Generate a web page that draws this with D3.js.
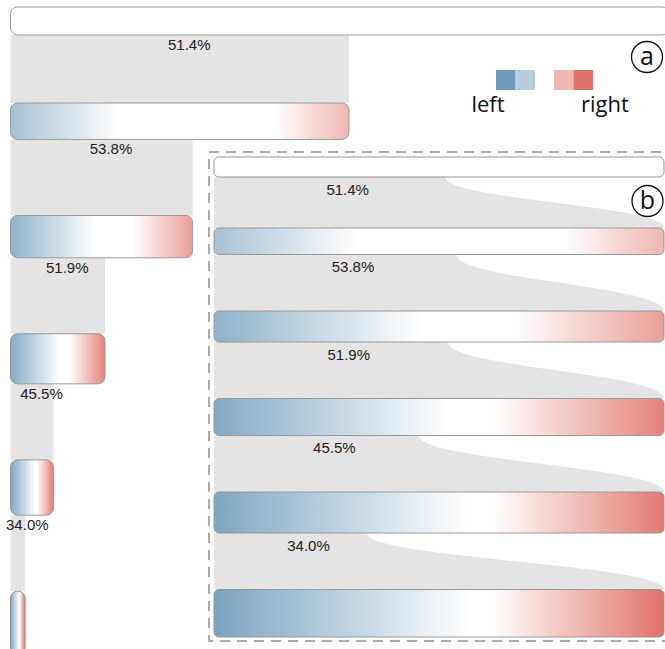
<!DOCTYPE html>
<html>
<head>
<meta charset="utf-8">
<script src="https://cdn.jsdelivr.net/npm/d3@7/dist/d3.min.js"></script>
<style>
  html, body { margin: 0; padding: 0; background: #fff; }
  svg { display: block; }
</style>
</head>
<body>
<svg id="chart" width="665" height="649"></svg>
<script>
// Conversion from one step of the funnel to the next (percent)
const stepRates = [51.4, 53.8, 51.9, 45.5, 34.0];
// Thickness value of each step bar (same units for both panels)
const stepDepth = [20, 26.5, 31, 37, 41, 47.5];
// Left/right position profile of each step: strength at each edge and how far it reaches
const leftTint   = [0, 0.62, 0.78, 0.86, 0.89, 0.92];
const leftReach  = [0, 0.32, 0.46, 0.52, 0.56, 0.57];
const rightTint  = [0, 0.52, 0.68, 0.88, 0.94, 1.0];
const rightStart = [1, 0.78, 0.67, 0.62, 0.62, 0.62];
// Legend
const legendLabels = ["left", "right"];
const legendColors = [["#6f9bbb", "#b5cddd"], ["#f0b8b3", "#e07268"]];

const svg = d3.select("#chart");
const defs = svg.append("defs");

const blue = d3.interpolateRgb("#ffffff", "#6f9bbb");
const red  = d3.interpolateRgb("#ffffff", "#e07268");

// Relative number of sessions reaching each step
const counts = [1];
stepRates.forEach((r, i) => counts.push(counts[i] * r / 100));

// One horizontal gradient per step
const SAMPLES = 60;
counts.forEach((_, i) => {
  const g = defs.append("linearGradient")
    .attr("id", "grad" + i)
    .attr("x1", 0).attr("x2", 1).attr("y1", 0).attr("y2", 0);
  const colorAt = t => {
    if (t < leftReach[i]) return blue(leftTint[i] * (1 - t / leftReach[i]));
    if (t > rightStart[i]) return red(rightTint[i] * (t - rightStart[i]) / (1 - rightStart[i]));
    return "#ffffff";
  };
  const offsets = d3.range(SAMPLES + 1).map(k => k / SAMPLES)
    .concat([leftReach[i], rightStart[i]])
    .sort((a, b) => a - b);
  offsets.forEach(t => {
    g.append("stop").attr("offset", t).attr("stop-color", colorAt(t));
  });
});

const flowFill = "#e4e4e4";
const barStroke = "#999";
const labelFont = "'Liberation Sans', Arial, sans-serif";

function layout(top, depthScale, firstGap, gap) {
  const ys = [];
  let y = top;
  stepDepth.forEach((d, i) => {
    const h = depthScale(d);
    ys.push({ y0: y, y1: y + h, h });
    y += h + (i === 0 ? firstGap : gap);
  });
  return ys;
}

// ---------- Panel a: bar width proportional to sessions ----------
const ax = d3.scaleLinear().domain([0, 1]).range([10.5, 669]);
const aDepth = d3.scaleLinear().domain([0, 10]).range([2, 15]);
const aRows = layout(7, aDepth, 68, 76);

const pa = svg.append("g");
// flows (gray) between successive bars
pa.selectAll("rect.flow").data(stepRates).join("rect")
  .attr("class", "flow")
  .attr("x", ax(0))
  .attr("y", (d, i) => aRows[i].y1)
  .attr("width", (d, i) => ax(counts[i + 1]) - ax(0))
  .attr("height", (d, i) => aRows[i + 1].y0 - aRows[i].y1)
  .attr("fill", flowFill);

pa.selectAll("rect.bar").data(counts).join("rect")
  .attr("class", "bar")
  .attr("x", ax(0))
  .attr("y", (d, i) => aRows[i].y0)
  .attr("width", d => ax(d) - ax(0))
  .attr("height", (d, i) => aRows[i].h)
  .attr("rx", 7).attr("ry", 7)
  .attr("fill", (d, i) => `url(#grad${i})`)
  .attr("stroke", barStroke).attr("stroke-width", 1);

pa.selectAll("text.rate").data(stepRates).join("text")
  .attr("class", "rate")
  .attr("x", (d, i) => ax(0) + (ax(counts[i + 1]) - ax(0)) / 2 + 9.5)
  .attr("y", (d, i) => aRows[i].y1 + 15)
  .attr("text-anchor", "middle")
  .attr("font-family", labelFont).attr("font-size", 15).attr("fill", "#222")
  .text(d => d3.format(".1f")(d) + "%");

// ---------- Panel b: full width bars, conversion as split point ----------
const bx = d3.scaleLinear().domain([0, 1]).range([214, 664]);
const bDepth = d3.scaleLinear().domain([0, 10]).range([0, 10]);
const bRows = layout(157, bDepth, 51, 56.5);

const pb = svg.append("g");
pb.append("rect")
  .attr("x", 209).attr("y", 152).attr("width", 480).attr("height", 489)
  .attr("fill", "none").attr("stroke", "#aaa").attr("stroke-width", 2)
  .attr("stroke-dasharray", "10,7");

// flow shape: leaves under the left part of a bar and spreads to full width
const bend = 0.45;
pb.selectAll("path.flow").data(stepRates).join("path")
  .attr("class", "flow")
  .attr("d", (d, i) => {
    const xs = bx(d / 100), x0 = bx(0), x1 = bx(1);
    const ya = bRows[i].y1, yb = bRows[i + 1].y0, dy = yb - ya;
    const p = d3.path();
    p.moveTo(x0, ya);
    p.lineTo(xs, ya);
    p.bezierCurveTo(xs, ya + bend * dy, x1, yb - bend * dy, x1, yb);
    p.lineTo(x0, yb);
    p.closePath();
    return p.toString();
  })
  .attr("fill", flowFill);

pb.selectAll("rect.bar").data(counts).join("rect")
  .attr("class", "bar")
  .attr("x", bx(0))
  .attr("y", (d, i) => bRows[i].y0)
  .attr("width", bx(1) - bx(0))
  .attr("height", (d, i) => bRows[i].h)
  .attr("rx", 5).attr("ry", 5)
  .attr("fill", (d, i) => `url(#grad${i})`)
  .attr("stroke", barStroke).attr("stroke-width", 1);

pb.selectAll("text.rate").data(stepRates).join("text")
  .attr("class", "rate")
  .attr("x", d => (bx(0) + bx(d / 100)) / 2 + 18)
  .attr("y", (d, i) => bRows[i].y1 + 17.5)
  .attr("text-anchor", "middle")
  .attr("font-family", labelFont).attr("font-size", 15).attr("fill", "#222")
  .text(d => d3.format(".1f")(d) + "%");

// ---------- Panel tags ----------
const tags = [{ t: "a", cx: 647, cy: 57 }, { t: "b", cx: 647.5, cy: 201 }];
tags.forEach(d => {
  svg.append("circle").attr("cx", d.cx).attr("cy", d.cy).attr("r", 15.5)
    .attr("fill", "none").attr("stroke", "#111").attr("stroke-width", 1.3);
  svg.append("text").attr("x", d.cx).attr("y", d.cy + 8)
    .attr("text-anchor", "middle")
    .attr("font-family", "'Open Sans', sans-serif").attr("font-size", 25).attr("fill", "#111")
    .text(d.t);
});

// ---------- Legend ----------
const lg = svg.append("g");
const legendX = [496, 554];
legendColors.forEach((pair, gi) => {
  pair.forEach((c, k) => {
    lg.append("rect").attr("x", legendX[gi] + k * 19.5).attr("y", 70)
      .attr("width", 19.5).attr("height", 20).attr("fill", c);
  });
});
lg.selectAll("text").data(legendLabels).join("text")
  .attr("x", (d, i) => [488, 605][i])
  .attr("y", 112)
  .attr("text-anchor", "middle")
  .attr("font-family", "'Open Sans', sans-serif").attr("font-size", 22).attr("fill", "#111")
  .text(d => d);
</script>
</body>
</html>
